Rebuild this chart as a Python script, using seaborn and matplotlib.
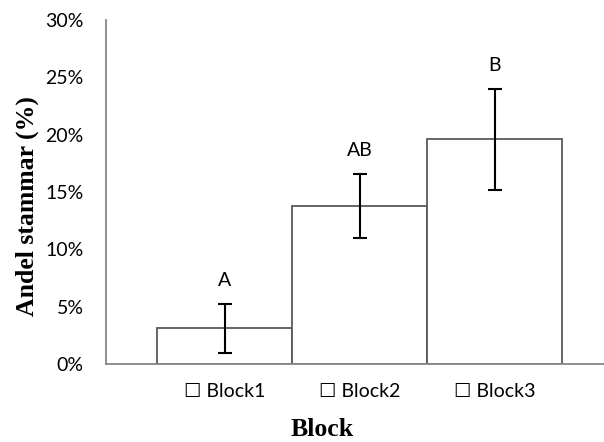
import matplotlib
matplotlib.use("Agg")
import matplotlib.pyplot as plt
import seaborn as sns
import pandas as pd
from matplotlib.ticker import FuncFormatter

# Data
blocks = ["Block1", "Block2", "Block3"]
andel = [3.1, 13.8, 19.6]          # percent
err = [2.1, 2.8, 4.4]              # percent
letters = ["A", "AB", "B"]
tick_label_texts = ["\u2610 Block1", "\u2610 Block2", "\u2610 Block3"]
yticks = [0, 5, 10, 15, 20, 25, 30]

sns.set_theme(style="white")
plt.rcParams['font.family'] = ['Lato', 'DejaVu Sans']

df = pd.DataFrame({"Block": blocks, "Andel": andel})

fig = plt.figure(figsize=(6.04, 4.42), dpi=100)
ax = fig.add_axes([106/604, 78/442, 1 - 106/604, (364-20)/442])

sns.barplot(data=df, x="Block", y="Andel", ax=ax, color="white",
            edgecolor="#595959", linewidth=1.3, width=1.0, errorbar=None,
            saturation=1)

xs = [p.get_x() + p.get_width()/2 for p in ax.patches]
ax.errorbar(xs, andel, yerr=err, fmt="none", ecolor="black",
            elinewidth=1.5, capsize=5, capthick=1.5, zorder=5)

for x, m, e, lab in zip(xs, andel, err, letters):
    ax.annotate(lab, xy=(x, m + e), xytext=(0, 17), textcoords="offset points",
                ha="center", va="center", fontsize=14, color="black")

ax.set_ylim(0, 30)
ax.set_yticks(yticks)
ax.yaxis.set_major_formatter(FuncFormatter(lambda v, p: f"{int(v)}%"))
ax.set_xlim(-0.5 - 51/135, 2.5 + 42/135)
ax.set_xticks(range(len(blocks)))
ax.set_xticklabels(tick_label_texts, fontfamily=['Lato', 'DejaVu Sans'])

ax.tick_params(axis="y", length=0, pad=16, labelsize=14, colors="black")
ax.tick_params(axis="x", length=0, pad=14, labelsize=14, colors="black")

for s in ["top", "right"]:
    ax.spines[s].set_visible(False)
for s in ["left", "bottom"]:
    ax.spines[s].set_color("#868686")
    ax.spines[s].set_linewidth(1.3)

ax.set_xlabel("Block", fontfamily="Liberation Serif", fontweight="bold",
              fontsize=18.5, color="black", va="center")
ax.xaxis.set_label_coords((322-106)/(604-106), -(429-364)/344)
ax.set_ylabel("Andel stammar (%)", fontfamily="Liberation Serif",
              fontweight="bold", fontsize=18.5, color="black", va="center")
ax.yaxis.set_label_coords(-(106-27)/(604-106), (364-206)/344)

fig.savefig("out.png", dpi=100)
